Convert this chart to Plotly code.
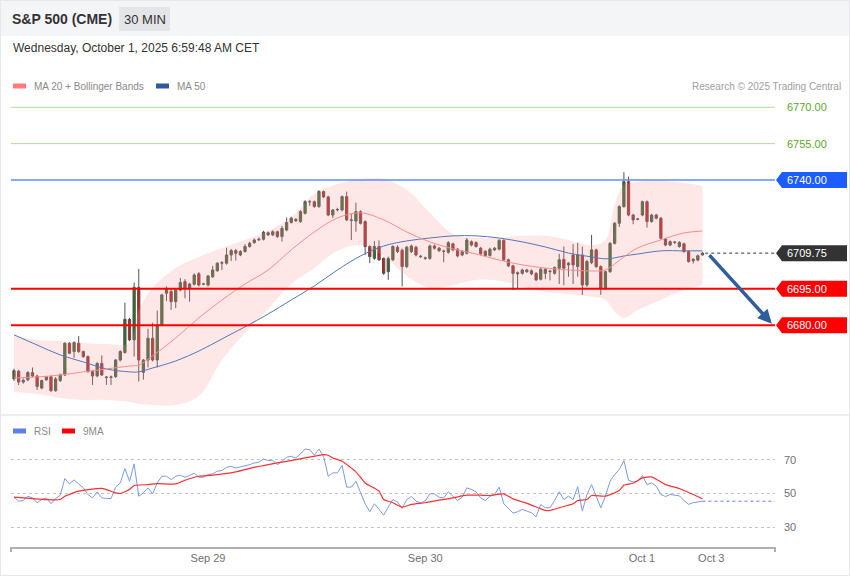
import plotly.graph_objects as go

W, H = 850, 576

# 30 min candles (index 0 = first candle on the left)
open_ = [
    6657.8, 6661.0, 6656.5, 6657.4, 6660.4, 6659.0, 6654.0, 6657.4, 6658.7, 6652.9,
    6657.1, 6659.4, 6672.5, 6669.1, 6672.5, 6669.1, 6667.0, 6660.8, 6659.0, 6664.2,
    6658.6, 6658.4, 6658.7, 6665.6, 6668.7, 6682.4, 6673.9, 6695.6, 6660.5, 6665.6,
    6674.6, 6665.6, 6680.1, 6693.2, 6693.9, 6689.7, 6694.5, 6698.0, 6695.2, 6696.9,
    6701.2, 6697.0, 6696.6, 6700.0, 6702.5, 6705.6, 6705.6, 6709.0, 6710.8, 6709.0,
    6710.4, 6712.5, 6714.1, 6715.2, 6715.5, 6718.2, 6717.3, 6718.6, 6716.6, 6719.3,
    6722.4, 6723.7, 6722.8, 6726.2, 6731.0, 6731.0, 6729.0, 6735.2, 6733.0, 6725.5,
    6727.6, 6727.6, 6733.1, 6723.5, 6723.0, 6726.9, 6722.8, 6712.5, 6707.6, 6712.5,
    6707.6, 6702.1, 6707.0, 6712.2, 6711.0, 6704.2, 6710.4, 6712.2, 6708.5, 6707.8,
    6707.6, 6712.7, 6711.8, 6710.6, 6710.1, 6713.6, 6711.4, 6709.0, 6709.7, 6714.5,
    6714.1, 6711.8, 6710.5, 6708.8, 6711.1, 6711.4, 6715.0, 6707.0, 6704.5, 6701.7,
    6701.4, 6702.8, 6702.5, 6701.4, 6699.0, 6701.4, 6702.1, 6701.4, 6703.5, 6707.2,
    6705.6, 6709.0, 6704.2, 6709.0, 6696.6, 6705.8, 6711.1, 6704.2, 6695.2, 6702.1,
    6713.8, 6722.1, 6729.0, 6739.3, 6725.5, 6723.9, 6725.5, 6731.0, 6722.8, 6725.5,
    6724.2, 6715.6, 6713.1, 6714.2, 6712.5, 6713.6, 6710.4, 6707.2, 6706.9, 6709.0,
]
high = [
    6662.0, 6661.5, 6658.0, 6661.0, 6662.5, 6659.5, 6657.5, 6659.0, 6659.2, 6658.5,
    6660.0, 6673.0, 6673.0, 6673.3, 6675.5, 6669.5, 6667.5, 6661.3, 6664.7, 6667.5,
    6659.0, 6659.2, 6666.0, 6669.6, 6689.3, 6683.0, 6697.6, 6703.2, 6666.0, 6678.5,
    6681.0, 6686.0, 6693.0, 6696.0, 6695.0, 6695.0, 6699.5, 6699.0, 6697.5, 6701.5,
    6702.0, 6697.5, 6700.8, 6704.5, 6706.0, 6706.5, 6712.0, 6711.5, 6711.5, 6711.0,
    6713.5, 6714.5, 6715.8, 6716.2, 6719.0, 6718.7, 6719.2, 6719.0, 6721.0, 6724.5,
    6724.8, 6724.2, 6727.5, 6731.6, 6731.7, 6731.5, 6735.8, 6735.6, 6733.5, 6728.0,
    6728.5, 6733.6, 6735.2, 6726.0, 6730.6, 6727.5, 6723.3, 6713.0, 6714.8, 6715.0,
    6708.0, 6708.3, 6713.0, 6713.0, 6711.6, 6712.8, 6713.3, 6712.8, 6709.0, 6708.3,
    6713.3, 6713.3, 6712.3, 6711.2, 6714.7, 6714.1, 6711.9, 6711.0, 6716.0, 6715.0,
    6714.7, 6712.3, 6711.0, 6712.0, 6712.3, 6715.6, 6715.5, 6707.5, 6705.0, 6702.2,
    6703.3, 6703.3, 6703.0, 6701.9, 6703.6, 6703.6, 6702.8, 6704.3, 6709.5, 6712.5,
    6706.1, 6713.5, 6714.0, 6712.5, 6707.0, 6717.3, 6711.6, 6704.7, 6702.6, 6714.3,
    6722.6, 6729.5, 6743.2, 6741.4, 6726.0, 6724.3, 6731.5, 6731.5, 6726.0, 6726.0,
    6724.7, 6716.1, 6715.0, 6714.8, 6714.7, 6714.1, 6710.9, 6707.7, 6709.2, 6710.2,
]
low = [
    6657.0, 6655.3, 6655.8, 6656.8, 6658.5, 6653.2, 6653.5, 6657.0, 6652.5, 6652.5,
    6656.5, 6659.0, 6668.0, 6666.5, 6668.5, 6666.5, 6660.3, 6655.3, 6658.5, 6659.0,
    6655.3, 6655.3, 6658.2, 6665.0, 6668.2, 6673.4, 6667.0, 6656.7, 6657.5, 6662.5,
    6665.0, 6662.5, 6679.5, 6690.0, 6686.3, 6687.0, 6694.0, 6691.1, 6689.7, 6696.4,
    6696.0, 6696.5, 6696.0, 6699.5, 6702.0, 6702.8, 6705.0, 6706.5, 6706.7, 6708.5,
    6710.0, 6712.0, 6713.6, 6714.8, 6715.0, 6716.8, 6716.8, 6716.0, 6714.5, 6718.8,
    6722.0, 6722.6, 6722.3, 6725.7, 6729.3, 6728.5, 6728.5, 6732.5, 6725.0, 6724.3,
    6727.0, 6727.0, 6723.0, 6715.2, 6718.6, 6721.6, 6709.0, 6705.6, 6707.0, 6706.5,
    6700.8, 6698.7, 6706.5, 6709.8, 6696.0, 6703.6, 6709.8, 6708.4, 6707.8, 6707.0,
    6707.0, 6711.2, 6710.2, 6706.0, 6709.5, 6710.5, 6708.0, 6708.5, 6709.2, 6712.5,
    6712.0, 6708.8, 6708.3, 6708.3, 6710.6, 6710.9, 6706.5, 6704.0, 6694.5, 6695.2,
    6700.9, 6701.6, 6700.7, 6698.2, 6698.5, 6699.0, 6698.5, 6700.9, 6697.0, 6696.5,
    6700.0, 6697.0, 6700.0, 6692.5, 6695.8, 6705.2, 6703.6, 6692.5, 6694.5, 6701.6,
    6713.3, 6720.6, 6728.5, 6725.0, 6721.7, 6723.3, 6725.0, 6720.3, 6722.3, 6723.7,
    6715.4, 6712.6, 6712.6, 6713.5, 6712.0, 6709.9, 6705.8, 6705.5, 6706.4, 6708.8,
]
close = [
    6661.2, 6656.5, 6657.2, 6660.4, 6659.0, 6654.6, 6657.1, 6658.7, 6652.9, 6657.8,
    6659.4, 6672.5, 6668.4, 6672.8, 6669.1, 6667.0, 6660.8, 6659.0, 6664.2, 6659.4,
    6658.4, 6658.6, 6665.6, 6669.1, 6682.4, 6673.9, 6695.6, 6665.6, 6665.6, 6674.6,
    6665.6, 6680.1, 6692.5, 6695.2, 6689.7, 6694.5, 6697.6, 6695.2, 6697.0, 6700.7,
    6696.6, 6697.0, 6700.3, 6702.8, 6705.6, 6705.8, 6709.0, 6710.8, 6709.7, 6710.4,
    6712.5, 6713.8, 6715.2, 6715.5, 6718.4, 6717.3, 6718.6, 6716.6, 6720.0, 6722.4,
    6724.2, 6723.2, 6726.9, 6731.0, 6731.0, 6729.0, 6735.2, 6733.0, 6725.5, 6727.6,
    6727.8, 6733.1, 6723.5, 6723.3, 6726.9, 6722.1, 6712.5, 6708.3, 6712.5, 6707.0,
    6701.4, 6707.6, 6712.5, 6710.4, 6704.2, 6712.2, 6712.7, 6709.0, 6708.3, 6707.6,
    6712.7, 6711.8, 6710.8, 6710.5, 6714.1, 6711.1, 6708.6, 6710.4, 6715.2, 6713.1,
    6712.5, 6709.5, 6708.8, 6711.4, 6711.8, 6715.0, 6707.0, 6704.5, 6701.4, 6701.2,
    6702.8, 6702.1, 6701.2, 6698.7, 6703.1, 6703.1, 6702.3, 6703.8, 6707.0, 6703.5,
    6704.9, 6704.9, 6709.0, 6696.6, 6706.3, 6711.1, 6704.2, 6695.2, 6702.1, 6713.8,
    6722.1, 6729.0, 6739.3, 6725.5, 6723.5, 6723.8, 6731.0, 6722.8, 6725.5, 6724.2,
    6715.9, 6713.1, 6714.5, 6714.3, 6714.2, 6710.4, 6706.3, 6706.6, 6708.7, 6709.75,
]

# MA 20 + Bollinger, MA 50, read at some candles
ma_idx = [0, 5, 10, 15, 20, 25, 27, 30, 35, 40, 45, 50, 55, 60, 65, 70, 75, 80, 85,
          90, 95, 100, 105, 110, 115, 120, 125, 128, 130, 132, 135, 140, 145, 149]
bb_upper = [6675.5, 6673.9, 6673.5, 6672.6, 6672.2, 6672.6, 6686.3, 6695.4, 6703.6, 6708.2,
            6711.9, 6715.2, 6718.9, 6724.7, 6734.2, 6738.3, 6740.4, 6740.4, 6735.9, 6726.4,
            6717.7, 6716.1, 6716.1, 6716.9, 6716.9, 6715.2, 6713.1, 6715.2, 6729.7, 6737.9,
            6739.2, 6739.6, 6738.8, 6737.5]
bb_lower = [6652.4, 6651.6, 6649.9, 6649.1, 6649.1, 6648.3, 6647.4, 6647.0, 6647.0, 6650.7,
            6665.6, 6676.8, 6686.7, 6697.0, 6703.6, 6710.7, 6713.1, 6708.6, 6700.3, 6695.4,
            6696.6, 6698.7, 6698.3, 6695.8, 6693.7, 6692.9, 6691.7, 6690.4, 6685.5, 6683.0,
            6686.3, 6690.4, 6694.5, 6696.6]
ma20 = [6658.2, 6658.6, 6659.4, 6660.7, 6661.9, 6663.1, 6663.5, 6667.3, 6674.7, 6683.0,
        6690.4, 6697.0, 6702.8, 6711.1, 6718.5, 6724.3, 6726.4, 6723.5, 6718.5, 6714.4,
        6711.5, 6709.4, 6706.9, 6704.9, 6703.6, 6702.8, 6702.4, 6702.8, 6705.3, 6708.2,
        6711.9, 6715.2, 6718.1, 6718.9]
ma50 = [6676.0, 6671.8, 6667.7, 6664.8, 6661.9, 6660.7, 6660.7, 6662.3, 6665.2, 6669.3,
        6674.3, 6679.3, 6684.6, 6690.4, 6696.2, 6702.8, 6708.6, 6712.7, 6714.8, 6716.0,
        6716.9, 6716.9, 6716.0, 6714.4, 6712.3, 6709.8, 6708.2, 6707.4, 6707.8, 6708.6,
        6709.4, 6710.7, 6710.7, 6710.7]

rsi = [
    47.8, 45.4, 45.8, 48.4, 47.4, 44.5, 46.4, 47.4, 43.9, 47.0,
    49.0, 58.9, 55.7, 58.1, 55.7, 53.4, 49.4, 47.4, 51.0, 47.4,
    47.0, 47.0, 53.8, 56.3, 64.9, 57.3, 67.6, 48.4, 50.4, 53.4,
    49.8, 56.3, 60.3, 60.3, 58.3, 60.3, 60.9, 59.7, 60.7, 62.1,
    59.7, 59.7, 61.3, 61.7, 63.3, 63.7, 65.6, 66.2, 65.2, 65.8,
    66.8, 67.2, 68.2, 68.6, 70.6, 69.6, 69.8, 67.2, 69.2, 71.6,
    72.2, 71.2, 73.6, 76.5, 76.1, 72.8, 76.5, 72.2, 60.3, 62.3,
    62.3, 66.8, 53.8, 53.8, 57.3, 51.0, 43.9, 39.1, 43.9, 40.5,
    37.1, 41.9, 46.4, 45.0, 41.1, 46.4, 48.2, 45.4, 44.5, 45.5,
    49.8, 49.8, 47.8, 47.4, 51.0, 48.4, 45.8, 47.8, 53.4, 52.4,
    51.0, 47.4, 45.8, 48.4, 49.4, 53.8, 43.9, 41.1, 38.3, 39.1,
    40.5, 39.5, 38.5, 36.1, 43.5, 41.5, 41.5, 45.8, 51.0, 46.4,
    48.4, 46.4, 54.0, 39.5, 49.4, 55.3, 48.4, 41.5, 48.4, 57.3,
    61.3, 64.3, 69.6, 57.9, 56.9, 57.3, 60.7, 55.3, 56.3, 54.4,
    49.4, 48.2, 49.4, 49.0, 48.6, 45.8, 43.5, 44.5, 45.0, 45.4,
]
rsi9_idx = [0, 4, 7, 10, 11, 14, 19, 22, 23, 25, 26, 29, 31, 35, 37, 40, 43, 48, 52, 55,
            59, 63, 67, 68, 69, 71, 74, 76, 79, 80, 82, 84, 86, 89, 92, 95, 98, 101, 103,
            106, 108, 110, 111, 114, 115, 116, 118, 121, 122, 124, 125, 128, 131, 132,
            134, 136, 138, 141, 144, 147, 149]
rsi9 = [47.8, 47.0, 46.4, 46.4, 48.4, 51.4, 53.0, 50.4, 50.0, 52.4, 54.8, 55.3, 55.9,
        55.7, 57.9, 60.3, 60.9, 62.9, 65.6, 67.2, 69.2, 71.2, 73.2, 72.8, 71.2, 69.2,
        62.9, 56.3, 51.4, 46.4, 44.5, 41.9, 43.5, 44.5, 46.0, 47.4, 49.0, 49.0, 48.8,
        49.8, 46.8, 45.0, 44.1, 40.9, 39.9, 39.9, 41.5, 43.9, 45.8, 46.4, 48.8, 48.4,
        51.8, 55.0, 56.1, 59.3, 59.9, 55.3, 53.0, 49.4, 46.8]

targets = [6770.00, 6755.00]
resistance = 6740.00
supports = [6695.00, 6680.00]

day_ticks = [42, 89, 135.9, 150.9]
day_labels = ["Sep 29", "Sep 30", "Oct 1", "Oct 3"]

FONT = "Liberation Sans, Arial, sans-serif"


def fx(p):
    return p / W


def fy(p):
    return 1 - p / H


x_range = [-0.65, 164.7]
y_range = [6643.7, 6775.1]
rsi_range = [18.1, 81.9]
main_top, main_bot = 95, 413
# half height of the price tags, in price units
tag_h = 8 * (y_range[1] - y_range[0]) / (main_bot - main_top)

n = len(close)
xs = list(range(n))

fig = go.Figure()

# bollinger band
fig.add_trace(go.Scatter(x=ma_idx, y=bb_lower, mode="lines", line=dict(width=0, shape="spline"),
                         hoverinfo="skip", showlegend=False))
fig.add_trace(go.Scatter(x=ma_idx, y=bb_upper, mode="lines", line=dict(width=0, shape="spline"),
                         fill="tonexty", fillcolor="rgba(250,150,150,0.23)",
                         hoverinfo="skip", showlegend=False))
fig.add_trace(go.Scatter(x=ma_idx, y=ma50, mode="lines",
                         line=dict(color="#5577b8", width=1, shape="spline"), showlegend=False))
fig.add_trace(go.Scatter(x=ma_idx, y=ma20, mode="lines",
                         line=dict(color="#ff8a8a", width=1, shape="spline"), showlegend=False))

fig.add_trace(go.Candlestick(
    x=xs, open=open_, high=high, low=low, close=close,
    increasing=dict(fillcolor="#1f7a1f", line=dict(color="#5a5050", width=1)),
    decreasing=dict(fillcolor="#e60d0d", line=dict(color="#5a5050", width=1)),
    showlegend=False,
))

# RSI panel
fig.add_trace(go.Scatter(x=xs, y=rsi, mode="lines", xaxis="x2", yaxis="y2",
                         line=dict(color="#7b9be9", width=1), showlegend=False))
fig.add_trace(go.Scatter(x=[xs[-1], x_range[1]], y=[rsi[-1], rsi[-1]], mode="lines",
                         xaxis="x2", yaxis="y2",
                         line=dict(color="#5b82e6", width=1, dash="dot"), showlegend=False))
fig.add_trace(go.Scatter(x=rsi9_idx, y=rsi9, mode="lines", xaxis="x2", yaxis="y2",
                         line=dict(color="#ff3030", width=1.2, shape="spline", smoothing=0.5),
                         showlegend=False))

shapes = []
annotations = []

# frame / header
shapes.append(dict(type="rect", xref="paper", yref="paper", x0=0, x1=1, y0=fy(36), y1=1,
                   fillcolor="#f4f5f7", line=dict(width=0), layer="below"))
shapes.append(dict(type="rect", xref="paper", yref="paper", x0=fx(119), x1=fx(170),
                   y0=fy(31), y1=fy(7), fillcolor="#e3e5e9", line=dict(width=0), layer="below"))
shapes.append(dict(type="line", xref="paper", yref="paper", x0=0, x1=1, y0=fy(415), y1=fy(415),
                   line=dict(color="#eceef1", width=2)))
shapes.append(dict(type="rect", xref="paper", yref="paper", x0=0, x1=1, y0=0, y1=1,
                   line=dict(color="#e6e8ec", width=2)))

# level lines
for v in targets:
    shapes.append(dict(type="line", xref="x domain", yref="y", x0=0, x1=1, y0=v, y1=v,
                       line=dict(color="#b4dc9c", width=1)))
    annotations.append(dict(xref="paper", yref="y", x=fx(785), y=v, text=f"{v:.2f}",
                            showarrow=False, xanchor="left", yanchor="middle",
                            font=dict(size=11, color="#5da52e", family=FONT)))

tag_levels = [(resistance, "#5b8cff", 1.5, "#1d5cff", "solid"),
              (supports[0], "#ff0000", 2, "#ff0000", "solid"),
              (supports[1], "#ff0000", 2, "#ff0000", "solid"),
              (close[-1], "#333333", 1, "#333333", "dot")]
for v, lc, lw, bg, dash in tag_levels:
    if dash == "dot":
        shapes.append(dict(type="line", xref="x", yref="y", x0=xs[-1] + 0.6, x1=x_range[1],
                           y0=v, y1=v, line=dict(color=lc, width=lw, dash="dot")))
    else:
        shapes.append(dict(type="line", xref="x domain", yref="y", x0=0, x1=1, y0=v, y1=v,
                           line=dict(color=lc, width=lw)))
    path = (f"M {fx(776)},{v} L {fx(782)},{v + tag_h} L {fx(847)},{v + tag_h} "
            f"L {fx(847)},{v - tag_h} L {fx(782)},{v - tag_h} Z")
    shapes.append(dict(type="path", xref="paper", yref="y", path=path,
                       fillcolor=bg, line=dict(width=0)))
    annotations.append(dict(xref="paper", yref="y", x=fx(785), y=v, text=f"{v:.2f}",
                            showarrow=False, xanchor="left", yanchor="middle",
                            font=dict(size=11, color="white", family=FONT)))

# forecast arrow
annotations.append(dict(xref="x", yref="y", axref="x", ayref="y",
                        x=164.0, y=supports[1] + 0.6, ax=xs[-1] + 1.2, ay=close[-1] - 0.2,
                        text="", showarrow=True, arrowhead=2, arrowsize=0.8, arrowwidth=3.5,
                        arrowcolor="#2f5e9e", standoff=0))

# axis end ticks
for xp in (11, 775):
    shapes.append(dict(type="line", xref="paper", yref="paper", x0=fx(xp), x1=fx(xp),
                       y0=fy(547), y1=fy(552), line=dict(color="#b0b0b0", width=2)))

# legends
legend_items = [(13, 86, "#ff7b7b", "MA 20 + Bollinger Bands"), (156, 86, "#2f5b9b", "MA 50"),
                (13, 431, "#5b82e6", "RSI"), (62, 431, "#ff0000", "9MA")]
for lx, ly, col, txt in legend_items:
    shapes.append(dict(type="rect", xref="paper", yref="paper", x0=fx(lx), x1=fx(lx + 13),
                       y0=fy(ly + 2.5), y1=fy(ly - 2.5), fillcolor=col, line=dict(width=0)))
    annotations.append(dict(xref="paper", yref="paper", x=fx(lx + 19), y=fy(ly), text=txt,
                            showarrow=False, xanchor="left", yanchor="middle",
                            font=dict(size=10, color="#8a8a8a", family=FONT)))

annotations += [
    dict(xref="paper", yref="paper", x=fx(10), y=fy(19), text="<b>S&P 500 (CME)</b>",
         showarrow=False, xanchor="left", yanchor="middle",
         font=dict(size=14, color="#333333", family=FONT)),
    dict(xref="paper", yref="paper", x=fx(144.5), y=fy(19), text="30 MIN",
         showarrow=False, xanchor="center", yanchor="middle",
         font=dict(size=13, color="#333333", family=FONT)),
    dict(xref="paper", yref="paper", x=fx(11), y=fy(48),
         text="Wednesday, October 1, 2025 6:59:48 AM CET",
         showarrow=False, xanchor="left", yanchor="middle",
         font=dict(size=12, color="#333333", family=FONT)),
    dict(xref="paper", yref="paper", x=fx(843), y=fy(86), text="Research © 2025 Trading Central",
         showarrow=False, xanchor="right", yanchor="middle",
         font=dict(size=10, color="#a0a0a0", family=FONT)),
]

fig.update_layout(
    width=W, height=H,
    margin=dict(l=0, r=0, t=0, b=0),
    paper_bgcolor="white", plot_bgcolor="white",
    font=dict(family=FONT, color="#666666"),
    showlegend=False,
    xaxis=dict(domain=[fx(11), fx(775)], range=x_range, anchor="y", showticklabels=False,
               showgrid=False, zeroline=False, rangeslider=dict(visible=False), fixedrange=True),
    yaxis=dict(domain=[fy(main_bot), fy(main_top)], range=y_range, visible=False,
               fixedrange=True),
    xaxis2=dict(domain=[fx(11), fx(775)], range=x_range, anchor="y2", matches="x",
                tickvals=day_ticks, ticktext=day_labels, ticks="", showgrid=False,
                zeroline=False, showline=True, linecolor="#b0b0b0", linewidth=2,
                tickfont=dict(size=11, color="#707070")),
    yaxis2=dict(domain=[fy(547), fy(440)], range=rsi_range, anchor="x2", side="right",
                tickvals=[30, 50, 70], showgrid=True, griddash="dot", gridcolor="#c4c4c4",
                zeroline=False, showline=False, ticks="", ticklabelstandoff=8,
                tickfont=dict(size=11, color="#707070")),
    shapes=shapes,
    annotations=annotations,
)

# the page body has a default 8px margin; remove it so the figure sits at the window origin
fig.write_html("out.html", config={"displayModeBar": False},
               post_script="document.body.style.margin='0px';")
